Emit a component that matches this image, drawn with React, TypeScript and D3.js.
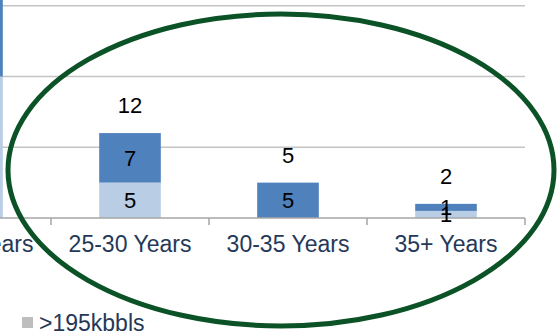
import * as d3 from "d3"

const categories = ["20-25 Years", "25-30 Years", "30-35 Years", "35+ Years"]
// lower (light) and upper (dark) stacked series
const lowerValues = [20, 5, 0, 1]
const upperValues = [14, 7, 5, 1]
const gridTicks = [10, 20, 30]
const legendLabel = ">195kbbls"

const width = 557
const height = 332

const App = () => {
  const x = d3.scaleBand<string>().domain(categories).range([-107, 525]).padding(0)
  const y = d3.scaleLinear().domain([0, 30]).range([218, 5.7])
  const barW = x.bandwidth() * 0.39

  const font = "'Liberation Sans', Arial, sans-serif"
  const navy = "#253858"

  const tickXs = [...categories.map((c) => x(c) as number), x.range()[1]]

  return (
    <div style={{ position: "fixed", left: 0, top: 0 }}>
      <svg width={width} height={height} style={{ display: "block", background: "#fff" }}>
        {/* gridlines */}
        {gridTicks.map((t) => (
          <line key={t} x1={x.range()[0]} x2={x.range()[1]} y1={y(t)} y2={y(t)} stroke="#C4C4C4" strokeWidth={1.5} />
        ))}

        {/* bars */}
        {categories.map((c, i) => {
          const cx = (x(c) as number) + x.bandwidth() / 2
          const lo = lowerValues[i]
          const up = upperValues[i]
          return (
            <g key={c}>
              {lo > 0 && (
                <rect x={cx - barW / 2} width={barW} y={y(lo)} height={y(0) - y(lo)} fill="#B9CDE5" />
              )}
              {up > 0 && (
                <rect x={cx - barW / 2} width={barW} y={y(lo + up)} height={y(lo) - y(lo + up)} fill="#4F81BD" />
              )}
            </g>
          )
        })}

        {/* axis */}
        <line x1={x.range()[0]} x2={x.range()[1]} y1={y(0)} y2={y(0)} stroke="#A6A6A6" strokeWidth={1.5} />
        {tickXs.map((tx, i) => (
          <line key={i} x1={tx} x2={tx} y1={y(0)} y2={y(0) + 7} stroke="#A6A6A6" strokeWidth={1.5} />
        ))}
        {categories.map((c) => (
          <text key={c} x={(x(c) as number) + x.bandwidth() / 2} y={252} textAnchor="middle" fontFamily={font} fontSize={23} fill={navy}>
            {c}
          </text>
        ))}

        {/* value labels */}
        {categories.map((c, i) => {
          const cx = (x(c) as number) + x.bandwidth() / 2
          const lo = lowerValues[i]
          const up = upperValues[i]
          const total = lo + up
          return (
            <g key={c} fontFamily={font} fontSize={22} fill="#000" textAnchor="middle">
              {lo > 0 && (
                <text x={cx} y={(y(0) + y(lo)) / 2} dy="0.36em">{lo}</text>
              )}
              {up > 0 && (
                <text x={cx} y={(y(lo) + y(total)) / 2} dy="0.36em">{up}</text>
              )}
              <text x={cx} y={y(total) - 20}>{total}</text>
            </g>
          )
        })}

        {/* legend */}
        <rect x={22} y={317} width={11} height={11} fill="#BEBEBE" />
        <text x={39} y={331} fontFamily={font} fontSize={23} fill={navy}>{legendLabel}</text>

        {/* annotation ellipse */}
        <ellipse cx={281} cy={170} rx={273} ry={156} fill="none" stroke="#0B5226" strokeWidth={5} />
      </svg>
    </div>
  )
}

export default App
